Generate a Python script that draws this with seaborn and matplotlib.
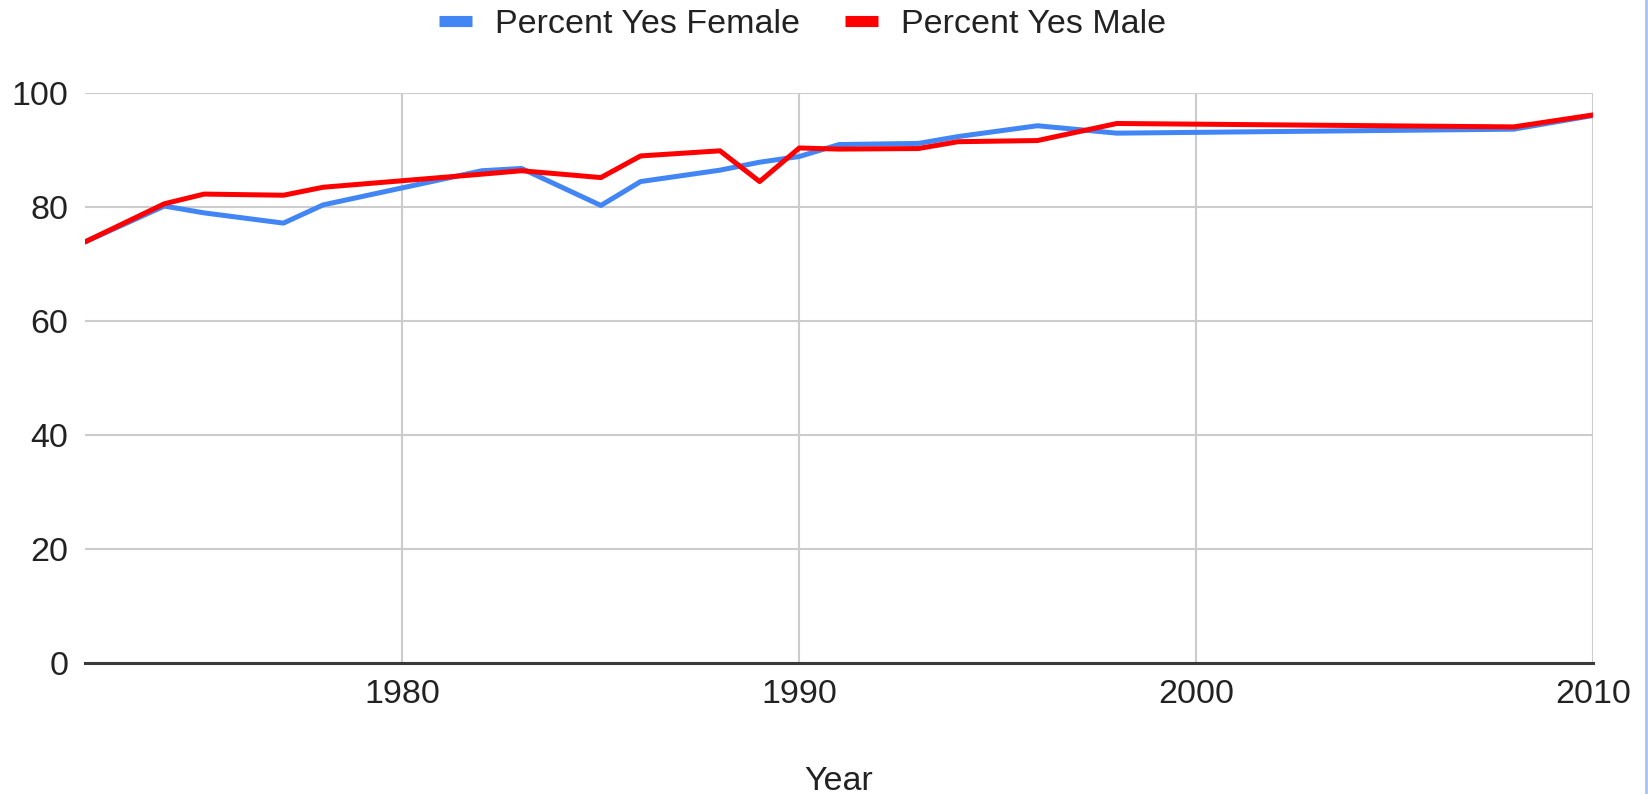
import matplotlib
matplotlib.use("Agg")
import matplotlib.pyplot as plt
from matplotlib.lines import Line2D
import seaborn as sns
import pandas as pd

# Survey years and share answering "yes", by sex
years = [1972, 1974, 1975, 1977, 1978, 1982, 1983, 1985, 1986, 1988, 1989,
         1990, 1991, 1993, 1994, 1996, 1998, 2008, 2010]
pct_yes_female = [73.9, 80.2, 79.0, 77.2, 80.4, 86.4, 86.8, 80.3, 84.5, 86.5, 87.9,
                  88.9, 91.0, 91.2, 92.4, 94.3, 93.0, 93.7, 96.1]
pct_yes_male = [73.9, 80.6, 82.3, 82.1, 83.5, 85.8, 86.4, 85.2, 89.0, 89.9, 84.5,
                90.4, 90.2, 90.3, 91.5, 91.7, 94.7, 94.1, 96.2]

series_names = ["Percent Yes Female", "Percent Yes Male"]
series_colors = ["#4285F4", "#FF0000"]
x_ticks = [1980, 1990, 2000, 2010]
y_ticks = [0, 20, 40, 60, 80, 100]

df = pd.DataFrame({
    "Year": years * 2,
    "Percent": pct_yes_female + pct_yes_male,
    "Series": [series_names[0]] * len(years) + [series_names[1]] * len(years),
})

sns.set_theme(style="white")
plt.rcParams["font.family"] = ["Liberation Sans", "DejaVu Sans"]

FS = 24.5
TEXT = "#222222"

fig = plt.figure(figsize=(16.48, 7.94), dpi=100)
ax = fig.add_axes([85 / 1648, 1 - 662.7 / 794, (1593 - 85) / 1648, (662.7 - 93.3) / 794])

sns.lineplot(data=df, x="Year", y="Percent", hue="Series",
             hue_order=series_names, palette=series_colors,
             linewidth=3.6, ax=ax, legend=False)

ax.set_xlim(1972, 2010)
ax.set_ylim(0, 100)
ax.set_xticks(x_ticks)
ax.set_yticks(y_ticks)
ax.set_xticklabels([str(t) for t in x_ticks])
ax.set_yticklabels([str(t) for t in y_ticks])
ax.tick_params(axis="both", length=0, labelsize=FS, labelcolor=TEXT)
ax.tick_params(axis="x", pad=12)
ax.tick_params(axis="y", pad=12)

ax.set_axisbelow(True)
ax.grid(True, color="#cccccc", linewidth=1.5)
for side in ("top", "right", "left"):
    ax.spines[side].set_visible(False)
ax.spines["bottom"].set_color("#3a3a3a")
ax.spines["bottom"].set_linewidth(2.2)
ax.spines["bottom"].set_zorder(1)

ax.set_ylabel("")
ax.set_xlabel("Year", fontsize=FS, color=TEXT, labelpad=40)

handles = [Line2D([0], [0], color=c, lw=8, solid_capstyle="butt") for c in series_colors]
fig.legend(handles, series_names, loc="center", bbox_to_anchor=(0.487, 0.969),
           ncol=2, frameon=False, fontsize=FS, handlelength=0.97,
           handletextpad=0.7, columnspacing=1.3, labelcolor=TEXT)

# thin frame line along the right edge of the canvas
fig.add_artist(Line2D([1645.5 / 1648, 1645.5 / 1648], [0, 1], color="#a9c3ef",
                      lw=2, transform=fig.transFigure))

fig.savefig("out.png", dpi=100, facecolor="white")
